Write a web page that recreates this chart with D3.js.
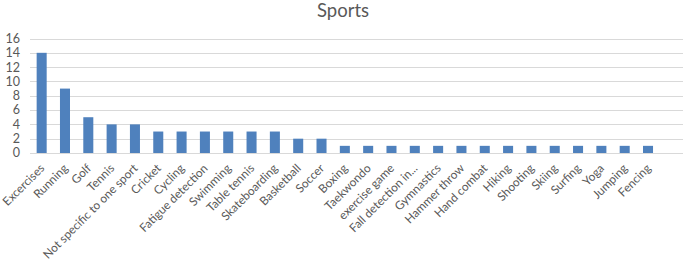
<!DOCTYPE html>
<html>
<head>
<meta charset="utf-8">
<script src="https://cdn.jsdelivr.net/npm/d3@7"></script>
<style>
  body { margin: 0; background: #fff; }
  text { font-family: Lato, "Open Sans", sans-serif; fill: #595959; }
</style>
</head>
<body>
<div id="grafico"></div>
<script>
const categories = ["Excercises", "Running", "Golf", "Tennis", "Not specific to one sport",
  "Cricket", "Cycling", "Fatigue detection", "Swimming", "Table tennis", "Skateboarding",
  "Basketball", "Soccer", "Boxing", "Taekwondo", "exercise game", "Fall detection in...",
  "Gymnastics", "Hammer throw", "Hand combat", "Hiking", "Shooting", "Skiing", "Surfing",
  "Yoga", "Jumping", "Fencing"];
const values = [14, 9, 5, 4, 4, 3, 3, 3, 3, 3, 3, 2, 2, 1, 1, 1, 1, 1, 1, 1, 1, 1, 1, 1, 1, 1, 1];
const yTicks = [0, 2, 4, 6, 8, 10, 12, 14, 16];

const width = 685, height = 264;
const margin = { top: 38.5, left: 30, bottom: 153, right: 683 };

const svg = d3.select("#grafico").append("svg")
              .attr("width", width)
              .attr("height", height);

// 27 categories, plus one empty slot at the end as in the source chart
const xScale = d3.scaleBand()
                 .domain(categories)
                 .range([margin.left, margin.left + (margin.right - margin.left) * 27 / 28])
                 .paddingInner(0.57)
                 .paddingOuter(0.285);

const yScale = d3.scaleLinear()
                 .domain([0, 16])
                 .range([margin.bottom, margin.top]);

// gridlines
svg.append("g")
   .selectAll("line")
   .data(yTicks)
   .join("line")
   .attr("x1", margin.left)
   .attr("x2", margin.right)
   .attr("y1", d => Math.round(yScale(d)) + 0.5)
   .attr("y2", d => Math.round(yScale(d)) + 0.5)
   .attr("stroke", "#d9d9d9")
   .attr("stroke-width", 1);

// y labels
svg.append("g")
   .selectAll("text")
   .data(yTicks)
   .join("text")
   .attr("x", 20)
   .attr("y", d => yScale(d))
   .attr("dy", "0.35em")
   .attr("text-anchor", "end")
   .style("font-size", "12.5px")
   .text(d => d);

// bars
svg.append("g")
   .selectAll("rect")
   .data(values)
   .join("rect")
   .attr("x", (d, i) => xScale(categories[i]))
   .attr("y", d => yScale(d))
   .attr("width", xScale.bandwidth())
   .attr("height", d => margin.bottom - yScale(d))
   .attr("fill", "#4f81bd");

// x labels, rotated
svg.append("g")
   .selectAll("text")
   .data(categories)
   .join("text")
   .attr("transform", d => `translate(${xScale(d) + xScale.bandwidth() / 2 + 3.5}, 169) rotate(-45)`)
   .attr("text-anchor", "end")
   .style("font-size", "11.8px")
   .text(d => d);

// title
svg.append("text")
   .attr("x", 343)
   .attr("y", 17)
   .attr("text-anchor", "middle")
   .style("font-size", "18.5px")
   .text("Sports");
</script>
</body>
</html>
